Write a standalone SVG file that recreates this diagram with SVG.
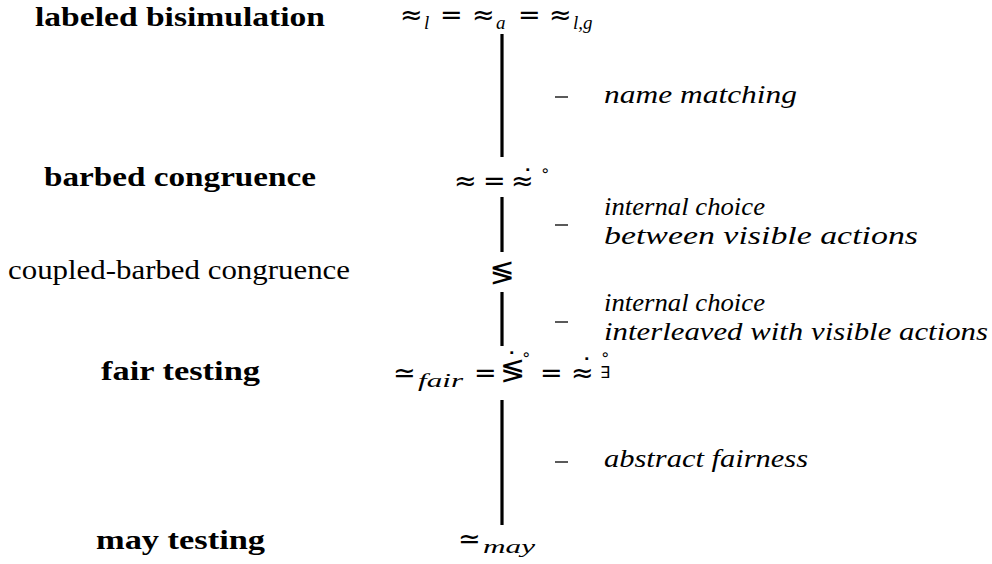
<svg xmlns="http://www.w3.org/2000/svg" width="992" height="564" viewBox="0 0 992 564">
<style>
text{fill:#000}
.lab{font-family:"Liberation Serif","DejaVu Serif",serif;font-size:27px}
.b{font-weight:bold}
.m{font-family:"DejaVu Sans",sans-serif;font-size:27px}
.sub{font-family:"Liberation Serif","DejaVu Serif",serif;font-style:italic;font-size:19px}
.sm{font-size:16px}
.dot{font-size:27px}
.it{font-family:"Liberation Serif","DejaVu Serif",serif;font-style:italic;font-size:26px}
.seg{stroke:#000;stroke-width:3.2;fill:none}
.dash{stroke:#000;stroke-width:1.3;fill:none}
</style>
<rect width="992" height="564" fill="#fff"/>
<g id="connectors">
<line class="seg" x1="502" y1="34" x2="502" y2="157"/>
<line class="seg" x1="502" y1="197" x2="502" y2="252"/>
<line class="seg" x1="502" y1="292" x2="502" y2="346"/>
<line class="seg" x1="502" y1="400" x2="502" y2="525"/>
</g>
<g id="n-labeled">
<text class="lab b" x="35" y="26" textLength="290" lengthAdjust="spacingAndGlyphs">labeled bisimulation</text>
<text class="m" y="24"><tspan x="400">≈</tspan><tspan class="sub" x="424" y="29">l</tspan><tspan x="440" y="24">=</tspan><tspan x="472">≈</tspan><tspan class="sub" x="496" y="29">a</tspan><tspan x="518" y="24">=</tspan><tspan x="549">≈</tspan><tspan class="sub" x="573" y="29">l,g</tspan></text>
</g>
<g id="n-barbed">
<text class="lab b" x="44" y="186" textLength="272" lengthAdjust="spacingAndGlyphs">barbed congruence</text>
<text class="m" y="190"><tspan x="454">≈</tspan><tspan x="483">=</tspan><tspan x="511">≈</tspan><tspan class="dot" x="521" y="189">˙</tspan><tspan class="sm" x="540" y="176">∘</tspan></text>
</g>
<g id="n-coupled">
<text class="lab" x="8" y="279" textLength="342" lengthAdjust="spacingAndGlyphs">coupled-barbed congruence</text>
<text class="m" x="502" y="282" text-anchor="middle" style="font-size:30px">≶</text>
</g>
<g id="n-fair">
<text class="lab b" x="101" y="380" textLength="159" lengthAdjust="spacingAndGlyphs">fair testing</text>
<text class="m" y="382"><tspan x="393">≃</tspan><tspan class="sub" x="418" y="387" textLength="45" lengthAdjust="spacingAndGlyphs">fair</tspan><tspan x="474" y="382">=</tspan><tspan x="500" y="380" style="font-size:30px">≶</tspan><tspan class="dot" x="505" y="372">˙</tspan><tspan class="sm" x="521" y="360">∘</tspan><tspan x="540" y="382">=</tspan><tspan x="571">≈</tspan><tspan class="dot" x="580" y="378">˙</tspan><tspan class="sm" x="600" y="360">∘</tspan><tspan x="600" y="378" style="font-size:16px">∃</tspan></text>
</g>
<g id="n-may">
<text class="lab b" x="96" y="549" textLength="169" lengthAdjust="spacingAndGlyphs">may testing</text>
<text class="m" y="548"><tspan x="458">≃</tspan><tspan class="sub" x="483" y="553" textLength="52" lengthAdjust="spacingAndGlyphs">may</tspan></text>
</g>
<g id="annotations">
<line class="dash" x1="555" y1="97" x2="568" y2="97"/>
<text class="it" x="604" y="103" textLength="193" lengthAdjust="spacingAndGlyphs">name matching</text>
<line class="dash" x1="555" y1="225" x2="568" y2="225"/>
<text class="it" x="604" y="215" textLength="161" lengthAdjust="spacingAndGlyphs">internal choice</text>
<text class="it" x="604" y="244" textLength="314" lengthAdjust="spacingAndGlyphs">between visible actions</text>
<line class="dash" x1="555" y1="322" x2="568" y2="322"/>
<text class="it" x="604" y="311" textLength="161" lengthAdjust="spacingAndGlyphs">internal choice</text>
<text class="it" x="604" y="340" textLength="384" lengthAdjust="spacingAndGlyphs">interleaved with visible actions</text>
<line class="dash" x1="555" y1="462" x2="568" y2="462"/>
<text class="it" x="604" y="467" textLength="204" lengthAdjust="spacingAndGlyphs">abstract fairness</text>
</g>
</svg>
